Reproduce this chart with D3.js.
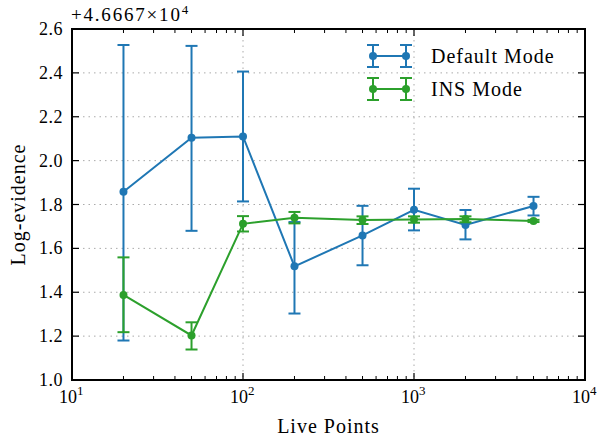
<!DOCTYPE html>
<html><head><meta charset="utf-8">
<script src="https://cdn.jsdelivr.net/npm/d3@7/dist/d3.min.js"></script>
<style>body{margin:0;background:#fff}svg{display:block}text{font-family:"Liberation Serif","Times New Roman",serif;fill:#000}</style>
</head><body><svg id="c" width="602" height="443"></svg>
<script>
const livePoints = [20, 50, 100, 200, 500, 1000, 2000, 5000];
const defaultVal = [1.858, 2.104, 2.110, 1.518, 1.659, 1.776, 1.707, 1.793];
const defaultLo  = [1.180, 1.680, 1.814, 1.303, 1.523, 1.682, 1.641, 1.750];
const defaultHi  = [2.527, 2.523, 2.406, 1.720, 1.794, 1.872, 1.775, 1.835];
const insVal = [1.388, 1.203, 1.712, 1.740, 1.729, 1.732, 1.734, 1.725];
const insLo  = [1.218, 1.139, 1.677, 1.714, 1.711, 1.717, 1.719, 1.720];
const insHi  = [1.559, 1.263, 1.747, 1.766, 1.746, 1.746, 1.746, 1.730];
const yTicks = [1.0, 1.2, 1.4, 1.6, 1.8, 2.0, 2.2, 2.4, 2.6];
const xTicks = [10, 100, 1000, 10000];
const xTickExp = ["1", "2", "3", "4"];
const seriesNames = ["Default Mode", "INS Mode"];
const colors = ["#1f77b4", "#2ca02c"];

const svg = d3.select("#c");
const L = 72, R = 585, T = 29, B = 380;
const x = d3.scaleLog().domain([10, 10000]).range([L, R]);
const y = d3.scaleLinear().domain([1.0, 2.6]).range([B, T]);

// grid
const g = svg.append("g");
g.selectAll(".gy").data(yTicks.slice(1, -1)).join("line")
  .attr("x1", L).attr("x2", R).attr("y1", d => y(d)).attr("y2", d => y(d))
  .attr("stroke", "#aaa").attr("stroke-width", 1).attr("stroke-dasharray", "1.5,4");
g.selectAll(".gx").data(xTicks.slice(1, -1)).join("line")
  .attr("y1", T).attr("y2", B).attr("x1", d => x(d)).attr("x2", d => x(d))
  .attr("stroke", "#aaa").attr("stroke-width", 1).attr("stroke-dasharray", "1.5,4");

// minor ticks
const minors = [];
for (let e = 1; e < 4; e++) for (let m = 2; m <= 9; m++) minors.push(m * Math.pow(10, e));

const tk = svg.append("g");
[[B, -1], [T, 1]].forEach(([yy, dir]) => {
  tk.append("g").selectAll("line").data(xTicks).join("line")
    .attr("x1", d => x(d)).attr("x2", d => x(d)).attr("y1", yy).attr("y2", yy + dir * 7)
    .attr("stroke", "#000").attr("stroke-width", 1.2);
  tk.append("g").selectAll("line").data(minors).join("line")
    .attr("x1", d => x(d)).attr("x2", d => x(d)).attr("y1", yy).attr("y2", yy + dir * 4)
    .attr("stroke", "#000").attr("stroke-width", 1);
});
[[L, 1], [R, -1]].forEach(([xx, dir]) => {
  tk.append("g").selectAll("line").data(yTicks).join("line")
    .attr("y1", d => y(d)).attr("y2", d => y(d)).attr("x1", xx).attr("x2", xx + dir * 7)
    .attr("stroke", "#000").attr("stroke-width", 1.2);
});

// y tick labels
svg.append("g").selectAll("text").data(yTicks).join("text")
  .attr("x", L - 9).attr("y", d => y(d) + 6).attr("text-anchor", "end")
  .style("font-size", "18px").style("letter-spacing", "0.5px").text(d => d.toFixed(1));
// x tick labels
const xl = svg.append("g").selectAll("text").data(xTicks).join("text")
  .attr("x", (d, i) => x(d) - 13).attr("y", B + 23).attr("text-anchor", "start").style("font-size", "18px");
xl.append("tspan").text("10");
xl.append("tspan").attr("dy", -8).style("font-size", "13px").text((d, i) => xTickExp[i]);

// offset text
const off = svg.append("text").attr("x", L - 1).attr("y", 21).style("font-size", "19px").style("letter-spacing", "1.8px");
off.append("tspan").text("+4.6667×10");
off.append("tspan").attr("dy", -7).style("font-size", "13px").text("4");

// axis labels
svg.append("text").attr("x", (L + R) / 2).attr("y", 433).attr("text-anchor", "middle")
  .style("font-size", "20px").style("letter-spacing", "1px").text("Live Points");
svg.append("text").attr("transform", `translate(25,${(T + B) / 2}) rotate(-90)`)
  .attr("text-anchor", "middle").style("font-size", "20px").style("letter-spacing", "1px").text("Log-evidence");

// data
const series = [
  { vals: defaultVal, lo: defaultLo, hi: defaultHi },
  { vals: insVal, lo: insLo, hi: insHi }
];
const cap = 6;
series.forEach((s, si) => {
  const c = colors[si];
  const gg = svg.append("g");
  const pts = livePoints.map((lp, i) => ({ lp, v: s.vals[i], lo: s.lo[i], hi: s.hi[i] }));
  gg.selectAll(".eb").data(pts).join("line")
    .attr("x1", d => x(d.lp)).attr("x2", d => x(d.lp)).attr("y1", d => y(d.lo)).attr("y2", d => y(d.hi))
    .attr("stroke", c).attr("stroke-width", 2);
  ["lo", "hi"].forEach(k => {
    gg.selectAll(".cap" + k).data(pts).join("line")
      .attr("x1", d => x(d.lp) - cap).attr("x2", d => x(d.lp) + cap)
      .attr("y1", d => y(d[k])).attr("y2", d => y(d[k]))
      .attr("stroke", c).attr("stroke-width", 2);
  });
  gg.append("path").datum(pts)
    .attr("d", d3.line().x(d => x(d.lp)).y(d => y(d.v)))
    .attr("fill", "none").attr("stroke", c).attr("stroke-width", 2);
  gg.selectAll("circle").data(pts).join("circle")
    .attr("cx", d => x(d.lp)).attr("cy", d => y(d.v)).attr("r", 4).attr("fill", c);
});

// frame
svg.append("rect").attr("x", L).attr("y", T).attr("width", R - L).attr("height", B - T)
  .attr("fill", "none").attr("stroke", "#000").attr("stroke-width", 2);

// legend
const leg = svg.append("g");
seriesNames.forEach((n, i) => {
  const yy = 56 + i * 33, x1 = 373, x2 = 406, c = colors[i];
  leg.append("line").attr("x1", x1).attr("x2", x2).attr("y1", yy).attr("y2", yy).attr("stroke", c).attr("stroke-width", 2);
  [x1, x2].forEach(xx => {
    leg.append("line").attr("x1", xx).attr("x2", xx).attr("y1", yy - 11).attr("y2", yy + 11).attr("stroke", c).attr("stroke-width", 2);
    leg.append("line").attr("x1", xx - 6).attr("x2", xx + 6).attr("y1", yy - 11).attr("y2", yy - 11).attr("stroke", c).attr("stroke-width", 2);
    leg.append("line").attr("x1", xx - 6).attr("x2", xx + 6).attr("y1", yy + 11).attr("y2", yy + 11).attr("stroke", c).attr("stroke-width", 2);
    leg.append("circle").attr("cx", xx).attr("cy", yy).attr("r", 4).attr("fill", c);
  });
  leg.append("text").attr("x", 431).attr("y", yy + 7).style("font-size", "20px").style("letter-spacing", "1px").text(n);
});
</script></body></html>
